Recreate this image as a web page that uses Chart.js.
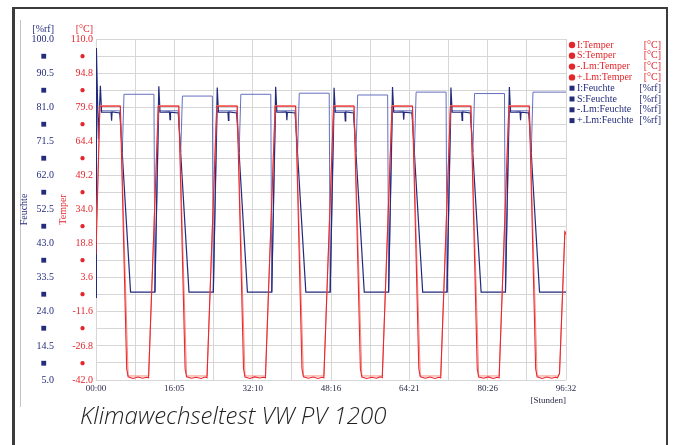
<!DOCTYPE html>
<html>
<head>
<meta charset="utf-8">
<script src="https://cdn.jsdelivr.net/npm/chart.js@4"></script>
<style>
body { margin:0; background:#fff; overflow:hidden; }
#wrap { position:absolute; left:0; top:0; width:673px; height:445px; }
#frame { position:absolute; left:12px; top:7px; width:651px; height:470px; border:2px solid #3c3c3c; border-left-width:3px; }
#panel { position:absolute; left:20px; top:20px; height:387px; border-left:1px solid #c4c4c4; }
#caption { position:absolute; left:80px; top:398px; font: italic 300 24px "Open Sans"; color:#222; white-space:nowrap; }
</style>
</head>
<body>
<div id="frame"></div>
<div id="panel"></div>
<div id="wrap"><canvas id="chart"></canvas></div>
<div id="caption">Klimawechseltest VW PV 1200</div>
<script>
// Zeitachse in Stunden (96:32 = 96.533 h)
const xGrid = [0, 8.044, 16.089, 24.133, 32.178, 40.222, 48.267, 56.311, 64.356, 72.4, 80.444, 88.489, 96.533];
const xLabels = ['00:00', '', '16:05', '', '32:10', '', '48:16', '', '64:21', '', '80:26', '', '96:32'];

const tempTicks = [-42, -34.4, -26.8, -19.2, -11.6, -4, 3.6, 11.2, 18.8, 26.4, 34, 41.6, 49.2, 56.8, 64.4, 72, 79.6, 87.2, 94.8, 102.4, 110];
const tempLabels = ['-42.0', '●', '-26.8', '●', '-11.6', '●', '3.6', '●', '18.8', '●', '34.0', '●', '49.2', '●', '64.4', '●', '79.6', '●', '94.8', '●', '110.0'];
const humTicks = [5, 9.75, 14.5, 19.25, 24, 28.75, 33.5, 38.25, 43, 47.75, 52.5, 57.25, 62, 66.75, 71.5, 76.25, 81, 85.75, 90.5, 95.25, 100];
const humLabels = ['5.0', '■', '14.5', '■', '24.0', '■', '33.5', '■', '43.0', '■', '52.5', '■', '62.0', '■', '71.5', '■', '81.0', '■', '90.5', '■', '100.0'];

// I:Temper [h, °C]
const tempIst = [[0,14],[0.8,80],
  [5.0,80],[6.3,-37],[6.6,-40.6],[7.6,-41.3],[8.6,-40.7],[9.6,-41.2],[10.4,-40.8],[10.8,-41.0],[12.8,80],
  [17.0,80],[18.3,-37],[18.6,-40.6],[19.6,-41.2],[20.6,-40.8],[21.6,-41.3],[22.4,-40.7],[22.8,-41.0],[24.8,80],
  [29.0,80],[30.3,-37],[30.6,-40.7],[31.6,-41.3],[32.6,-40.6],[33.6,-41.1],[34.4,-40.8],[34.8,-41.0],[36.8,80],
  [41.0,80],[42.3,-37],[42.6,-40.6],[43.6,-41.2],[44.6,-40.7],[45.6,-41.3],[46.4,-40.8],[46.8,-41.0],[48.8,80],
  [53.0,80],[54.3,-37],[54.6,-40.7],[55.6,-41.3],[56.6,-40.8],[57.6,-41.2],[58.4,-40.6],[58.8,-41.0],[60.8,80],
  [65.0,80],[66.3,-37],[66.6,-40.6],[67.6,-41.2],[68.6,-40.7],[69.6,-41.3],[70.4,-40.8],[70.8,-41.0],[72.8,80],
  [77.0,80],[78.3,-37],[78.6,-40.7],[79.6,-41.2],[80.6,-40.6],[81.6,-41.3],[82.4,-40.8],[82.8,-41.0],[84.8,80],
  [89.0,80],[90.3,-37],[90.6,-40.6],[91.6,-41.3],[92.6,-40.7],[93.6,-41.2],[94.4,-40.8],[94.8,-41.0],[95.2,-39],[96.3,24],[96.53,23]];

// S:Temper [h, °C]
const tempSoll = [[0,20],[0.8,80.3],
  [5.0,80.3],[6.6,-40.2],[10.8,-40.2],[12.8,80.3],
  [17.0,80.3],[18.6,-40.2],[22.8,-40.2],[24.8,80.3],
  [29.0,80.3],[30.6,-40.2],[34.8,-40.2],[36.8,80.3],
  [41.0,80.3],[42.6,-40.2],[46.8,-40.2],[48.8,80.3],
  [53.0,80.3],[54.6,-40.2],[58.8,-40.2],[60.8,80.3],
  [65.0,80.3],[66.6,-40.2],[70.8,-40.2],[72.8,80.3],
  [77.0,80.3],[78.6,-40.2],[82.8,-40.2],[84.8,80.3],
  [89.0,80.3],[90.6,-40.2],[94.8,-40.2],[95.2,-39.5],[96.3,24],[96.53,24]];

// I:Feuchte [h, %rf]
const humIst = [[0,28],[0.08,97.5],[0.5,72],[0.9,87],[1.15,79.6],[3.1,79.6],[3.2,77.2],[3.3,79.7],[4.9,79.4],[5.4,68],[7.1,29.5],[12.1,29.5],
  [12.9,86.8],[13.15,79.6],[15.1,79.7],[15.2,77.5],[15.3,79.6],[16.9,79.4],[17.4,68],[19.1,29.5],[24.1,29.5],
  [24.9,86.5],[25.15,79.6],[27.1,79.6],[27.2,77.3],[27.3,79.7],[28.9,79.4],[29.4,68],[31.1,29.5],[36.1,29.5],
  [36.9,86.7],[37.15,79.6],[39.1,79.7],[39.2,77.4],[39.3,79.6],[40.9,79.4],[41.4,68],[43.1,29.5],[48.1,29.5],
  [48.9,86.4],[49.15,79.6],[51.1,79.6],[51.2,77.2],[51.3,79.7],[52.9,79.4],[53.4,68],[55.1,29.5],[60.1,29.5],
  [60.9,86.6],[61.15,79.6],[63.1,79.7],[63.2,77.5],[63.3,79.6],[64.9,79.4],[65.4,68],[67.1,29.5],[72.1,29.5],
  [72.9,86.5],[73.15,79.6],[75.1,79.6],[75.2,77.3],[75.3,79.7],[76.9,79.4],[77.4,68],[79.1,29.5],[84.1,29.5],
  [84.9,86.6],[85.15,79.6],[87.1,79.7],[87.2,77.4],[87.3,79.6],[88.9,79.4],[89.4,68],[91.1,29.5],[96.53,29.5]];

// S:Feuchte [h, %rf]
const humSoll = [[0.9,80],[4.9,80],[5.4,68.5],[5.75,84.6],[11.9,84.6],[12.1,29.5],[12.9,80],
  [16.9,80],[17.4,68.5],[17.75,84.1],[23.9,84.1],[24.1,29.5],[24.9,80],
  [28.9,80],[29.4,68.5],[29.75,84.6],[35.9,84.6],[36.1,29.5],[36.9,80],
  [40.9,80],[41.4,68.5],[41.75,84.9],[47.9,84.9],[48.1,29.5],[48.9,80],
  [52.9,80],[53.4,68.5],[53.75,84.4],[59.9,84.4],[60.1,29.5],[60.9,80],
  [64.9,80],[65.4,68.5],[65.75,85.2],[71.9,85.2],[72.1,29.5],[72.9,80],
  [76.9,80],[77.4,68.5],[77.75,84.8],[83.9,84.8],[84.1,29.5],[84.9,80],
  [88.9,80],[89.4,68.5],[89.75,85.2],[96.53,85.2]];

const rot = '#e3262c';
const navy = '#242c7c';
const serif = 'Liberation Serif';
const nb = '\u00a0\u00a0\u00a0';

// Legende rechts + Einheiten über den Achsen
const seitenLegende = {
  id: 'seitenLegende',
  afterDraw(chart) {
    const c = chart.ctx;
    c.save();
    c.font = '10px "' + serif + '"';
    c.textBaseline = 'middle';
    chart.data.datasets.forEach((ds, i) => {
      const y = 45 + i * 10.8;
      c.fillStyle = ds.legendColor;
      if (ds.marker === 'circle') {
        c.beginPath(); c.arc(572, y, 3.2, 0, Math.PI * 2); c.fill();
      } else {
        c.fillRect(569.5, y - 2.5, 5, 5);
      }
      c.textAlign = 'left';
      c.fillText(ds.label, 577, y);
      c.textAlign = 'right';
      c.fillText(ds.unit, 661, y);
    });
    const yH = chart.scales.yH, yT = chart.scales.yT;
    c.textAlign = 'right';
    c.fillStyle = navy;
    c.fillText('[%rf]', yH.right - 3, yT.top - 10);
    c.fillStyle = rot;
    c.fillText('[°C]', yT.right - 3, yT.top - 10);
    c.restore();
  }
};

function linie(label, data, color, width, axis, marker, unit) {
  return { label: label, data: data, borderColor: color, backgroundColor: color, borderWidth: width,
    pointRadius: 0, tension: 0, yAxisID: axis, marker: marker, unit: unit,
    legendColor: axis === 'yT' ? rot : navy };
}

new Chart(document.getElementById('chart'), {
  type: 'line',
  data: {
    datasets: [
      linie('I:Temper', tempIst, '#e8282e', 1.1, 'yT', 'circle', '[°C]'),
      linie('S:Temper', tempSoll, '#f48a80', 1, 'yT', 'circle', '[°C]'),
      linie('-.Lm:Temper', [], rot, 1, 'yT', 'circle', '[°C]'),
      linie('+.Lm:Temper', [], rot, 1, 'yT', 'circle', '[°C]'),
      linie('I:Feuchte', humIst, '#222a7c', 1.2, 'yH', 'square', '[%rf]'),
      linie('S:Feuchte', humSoll, '#6470c0', 1, 'yH', 'square', '[%rf]'),
      linie('-.Lm:Feuchte', [], navy, 1, 'yH', 'square', '[%rf]'),
      linie('+.Lm:Feuchte', [], navy, 1, 'yH', 'square', '[%rf]')
    ]
  },
  options: {
    responsive: true,
    maintainAspectRatio: false,
    animation: false,
    events: [],
    layout: { padding: { left: 18, right: 107, top: 39, bottom: 35 } },
    plugins: { legend: { display: false }, tooltip: { enabled: false } },
    scales: {
      x: {
        type: 'linear', min: 0, max: 96.533,
        afterBuildTicks: s => { s.ticks = xGrid.map(v => ({ value: v })); },
        afterFit: s => { s.height = 30; },
        ticks: { callback: (v, i) => xLabels[i], autoSkip: false, maxRotation: 0, padding: 3,
          color: '#2b2b4a', font: { family: serif, size: 9 } },
        grid: { color: '#d6d6d6', drawTicks: false },
        border: { display: false },
        title: { display: true, text: '[Stunden]', align: 'end', color: '#2b2b4a',
          font: { family: serif, size: 9 }, padding: { top: 4, bottom: 4 } }
      },
      yT: {
        position: 'left', weight: 0, min: -42, max: 110,
        afterBuildTicks: s => { s.ticks = tempTicks.map(v => ({ value: v })); },
        afterFit: s => { s.width = 39; },
        ticks: { callback: (v, i) => i % 2 ? tempLabels[i] + nb : tempLabels[i], autoSkip: false, padding: 3,
          color: rot, font: { family: serif, size: 10 } },
        grid: { color: '#d6d6d6', drawTicks: false },
        border: { display: false },
        title: { display: true, text: 'Temper', color: rot, font: { family: serif, size: 10 }, padding: 0 }
      },
      yH: {
        position: 'left', weight: 1, min: 5, max: 100,
        afterBuildTicks: s => { s.ticks = humTicks.map(v => ({ value: v })); },
        afterFit: s => { s.width = 39; },
        ticks: { callback: (v, i) => i % 2 ? humLabels[i] + nb : humLabels[i], autoSkip: false, padding: 3,
          color: navy, font: { family: serif, size: 10 } },
        grid: { display: false, drawTicks: false },
        border: { display: false },
        title: { display: true, text: 'Feuchte', color: navy, font: { family: serif, size: 10 }, padding: 0 }
      }
    }
  },
  plugins: [seitenLegende]
});
</script>
</body>
</html>
